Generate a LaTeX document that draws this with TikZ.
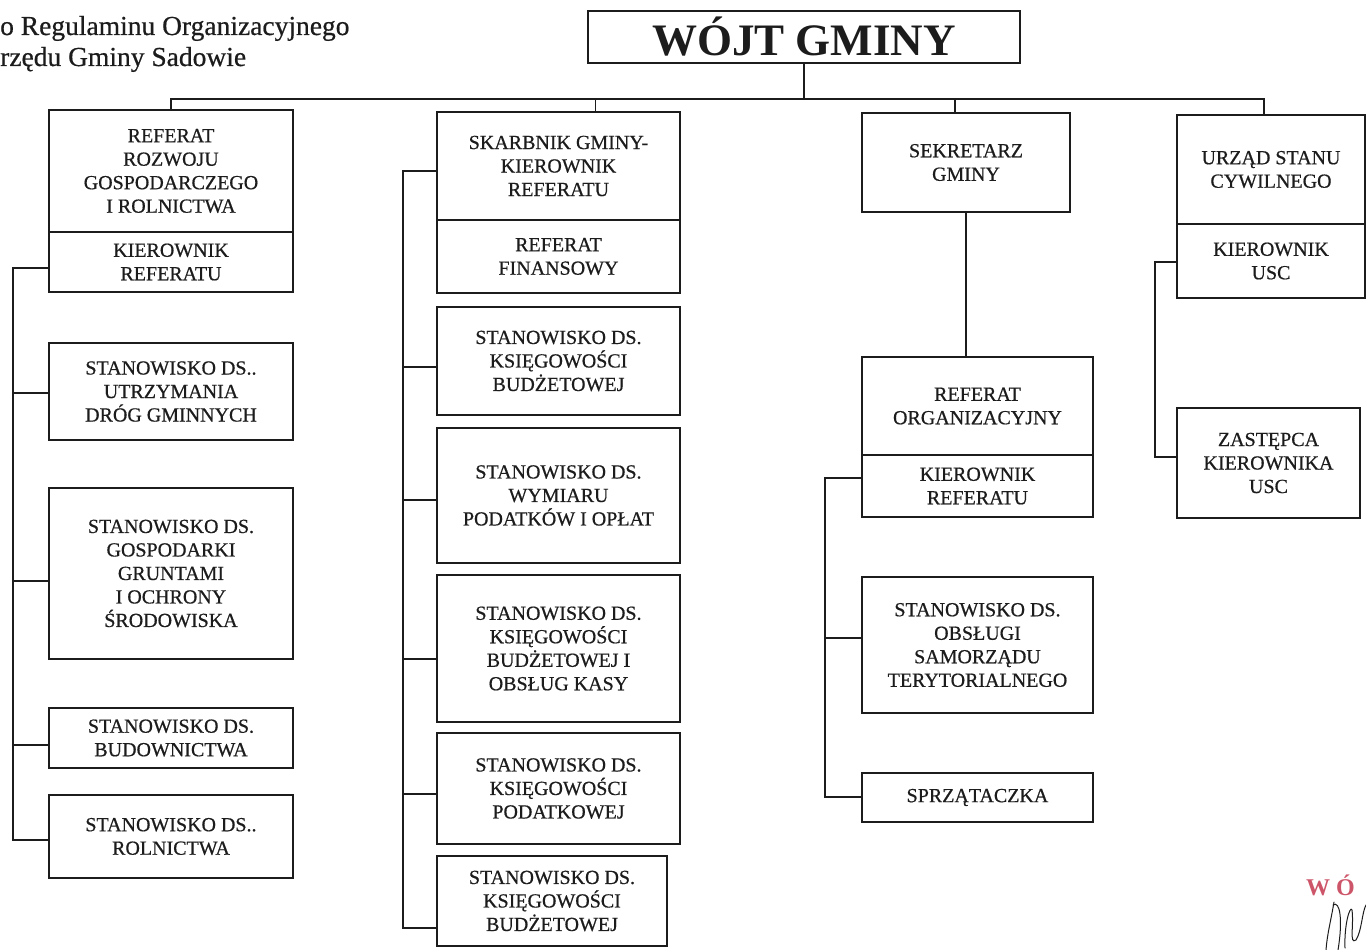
\documentclass[tikz,border=0pt]{standalone}
\usepackage{fontspec}
\setmainfont{Liberation Serif}
\newfontfamily\scanfont{Liberation Serif}[FakeBold=0.6]
\usetikzlibrary{calc}
\definecolor{ink}{RGB}{28,28,28}
\definecolor{stampred}{RGB}{205,85,105}
\tikzset{
  orgbox/.style={draw=ink, line width=1.7pt, align=center, inner sep=0pt, text=ink,
    font=\scanfont\fontsize{20}{23.5}\selectfont},
  conn/.style={draw=ink, line width=1.6pt},
  headtext/.style={anchor=base west, inner sep=0pt, text=ink, font=\scanfont\fontsize{27.5}{31}\selectfont}
}
\begin{document}
\begin{tikzpicture}[x=1pt, y=-1pt]
\useasboundingbox (0,0) rectangle (1366,950);

% header
\node[headtext] (h1) at (0,35) {o Regulaminu Organizacyjnego};
\node[headtext] (h2) at (0,66) {rzędu Gminy Sadowie};

% top
\node[orgbox, font=\bfseries\fontsize{45}{50}\selectfont, minimum width=432pt, minimum height=52pt] (wojt) at (804,37) {WÓJT GMINY};

% column 1
\node[orgbox, minimum width=244pt, minimum height=122pt] (b1) at (171,171) {REFERAT\\ROZWOJU\\GOSPODARCZEGO\\I ROLNICTWA};
\node[orgbox, minimum width=244pt, minimum height=60pt] (b1k) at (171,262) {KIEROWNIK\\REFERATU};
\node[orgbox, minimum width=244pt, minimum height=97pt] (utr) at (171,391.5) {STANOWISKO DS..\\UTRZYMANIA\\DRÓG GMINNYCH};
\node[orgbox, minimum width=244pt, minimum height=171pt] (gosp) at (171,573.5) {STANOWISKO DS.\\GOSPODARKI\\GRUNTAMI\\I OCHRONY\\ŚRODOWISKA};
\node[orgbox, minimum width=244pt, minimum height=60pt] (bud) at (171,738) {STANOWISKO DS.\\BUDOWNICTWA};
\node[orgbox, minimum width=244pt, minimum height=83pt] (rol) at (171,836.5) {STANOWISKO DS..\\ROLNICTWA};

% column 2
\node[orgbox, minimum width=243pt, minimum height=108pt] (skarb) at (558.5,166) {SKARBNIK GMINY-\\KIEROWNIK\\REFERATU};
\node[orgbox, minimum width=243pt, minimum height=73pt] (fin) at (558.5,256.5) {REFERAT\\FINANSOWY};
\node[orgbox, minimum width=243pt, minimum height=108pt] (kb1) at (558.5,361) {STANOWISKO DS.\\KSIĘGOWOŚCI\\BUDŻETOWEJ};
\node[orgbox, minimum width=243pt, minimum height=135pt] (wym) at (558.5,495.5) {STANOWISKO DS.\\WYMIARU\\PODATKÓW I OPŁAT};
\node[orgbox, minimum width=243pt, minimum height=147pt] (kasy) at (558.5,648.5) {STANOWISKO DS.\\KSIĘGOWOŚCI\\BUDŻETOWEJ I\\OBSŁUG KASY};
\node[orgbox, minimum width=243pt, minimum height=111pt] (pod) at (558.5,788.5) {STANOWISKO DS.\\KSIĘGOWOŚCI\\PODATKOWEJ};
\node[orgbox, minimum width=230pt, minimum height=90pt] (kb2) at (552,901) {STANOWISKO DS.\\KSIĘGOWOŚCI\\BUDŻETOWEJ};

% column 3
\node[orgbox, minimum width=208pt, minimum height=99pt] (sek) at (966,162.5) {SEKRETARZ\\GMINY};
\node[orgbox, minimum width=231pt, minimum height=98pt] (ro) at (977.5,406) {REFERAT\\ORGANIZACYJNY};
\node[orgbox, minimum width=231pt, minimum height=62pt] (rok) at (977.5,486) {KIEROWNIK\\REFERATU};
\node[orgbox, minimum width=231pt, minimum height=136pt] (obs) at (977.5,645) {STANOWISKO DS.\\OBSŁUGI\\SAMORZĄDU\\TERYTORIALNEGO};
\node[orgbox, minimum width=231pt, minimum height=49pt] (sprz) at (977.5,797.5) {SPRZĄTACZKA};

% column 4
\node[orgbox, minimum width=188pt, minimum height=109pt] (usc) at (1271,169.5) {URZĄD STANU\\CYWILNEGO};
\node[orgbox, minimum width=188pt, minimum height=74pt] (usck) at (1271,261) {KIEROWNIK\\USC};
\node[orgbox, minimum width=183pt, minimum height=110pt] (zast) at (1268.5,463) {ZASTĘPCA\\KIEROWNIKA\\USC};

% top bar
\coordinate (bar) at (0,99);
\coordinate (d2) at ([xshift=37pt]skarb.north);
\coordinate (d3) at ([xshift=-11pt]sek.north);
\coordinate (d4) at ([xshift=-7pt]usc.north);
\draw[conn] (wojt.south) -- (wojt.south |- bar);
\draw[conn] (b1.north) |- (d4 |- bar) -- (d4);
\draw[conn] (d2 |- bar) -- (d2);
\draw[conn] (d3 |- bar) -- (d3);
\draw[conn] (sek.south) -- (sek.south |- ro.north);

% spine 1
\coordinate (s1) at (13,0);
\draw[conn] (b1k.west |- 0,268) -| (s1 |- 0,840) -- (rol.west |- 0,840);
\draw[conn] (s1 |- 0,393) -- (utr.west |- 0,393);
\draw[conn] (s1 |- 0,581) -- (gosp.west |- 0,581);
\draw[conn] (s1 |- 0,745) -- (bud.west |- 0,745);

% spine 2
\coordinate (s2) at (403,0);
\draw[conn] (skarb.west |- 0,171) -| (s2 |- 0,928) -- (kb2.west |- 0,928);
\draw[conn] (s2 |- 0,367) -- (kb1.west |- 0,367);
\draw[conn] (s2 |- 0,500) -- (wym.west |- 0,500);
\draw[conn] (s2 |- 0,659) -- (kasy.west |- 0,659);
\draw[conn] (s2 |- 0,794) -- (pod.west |- 0,794);

% spine 3
\coordinate (s3) at (825,0);
\draw[conn] (rok.west |- 0,478) -| (s3 |- 0,797) -- (sprz.west |- 0,797);
\draw[conn] (s3 |- 0,638) -- (obs.west |- 0,638);

% spine 4
\coordinate (s4) at (1155,0);
\draw[conn] (usck.west |- 0,262) -| (s4 |- 0,457) -- (zast.west |- 0,457);

% stamp and signature
\node[anchor=base west, inner sep=0pt, text=stampred, font=\bfseries\fontsize{24}{24}\selectfont] (stamp) at (1306,895) {W\hspace{6pt}Ó};
\draw[ink, line width=1pt, line cap=round] (1334,902) .. controls (1331,920) and (1327,935) .. (1326,950);
\draw[ink, line width=1pt, line cap=round] (1333,905) .. controls (1340,900) and (1343,920) .. (1338,950);
\draw[ink, line width=1pt, line cap=round] (1345,948) .. controls (1344,925) and (1350,905) .. (1352,910) .. controls (1354,925) and (1349,945) .. (1356,940) .. controls (1362,930) and (1362,912) .. (1366,905);
\end{tikzpicture}
\end{document}
